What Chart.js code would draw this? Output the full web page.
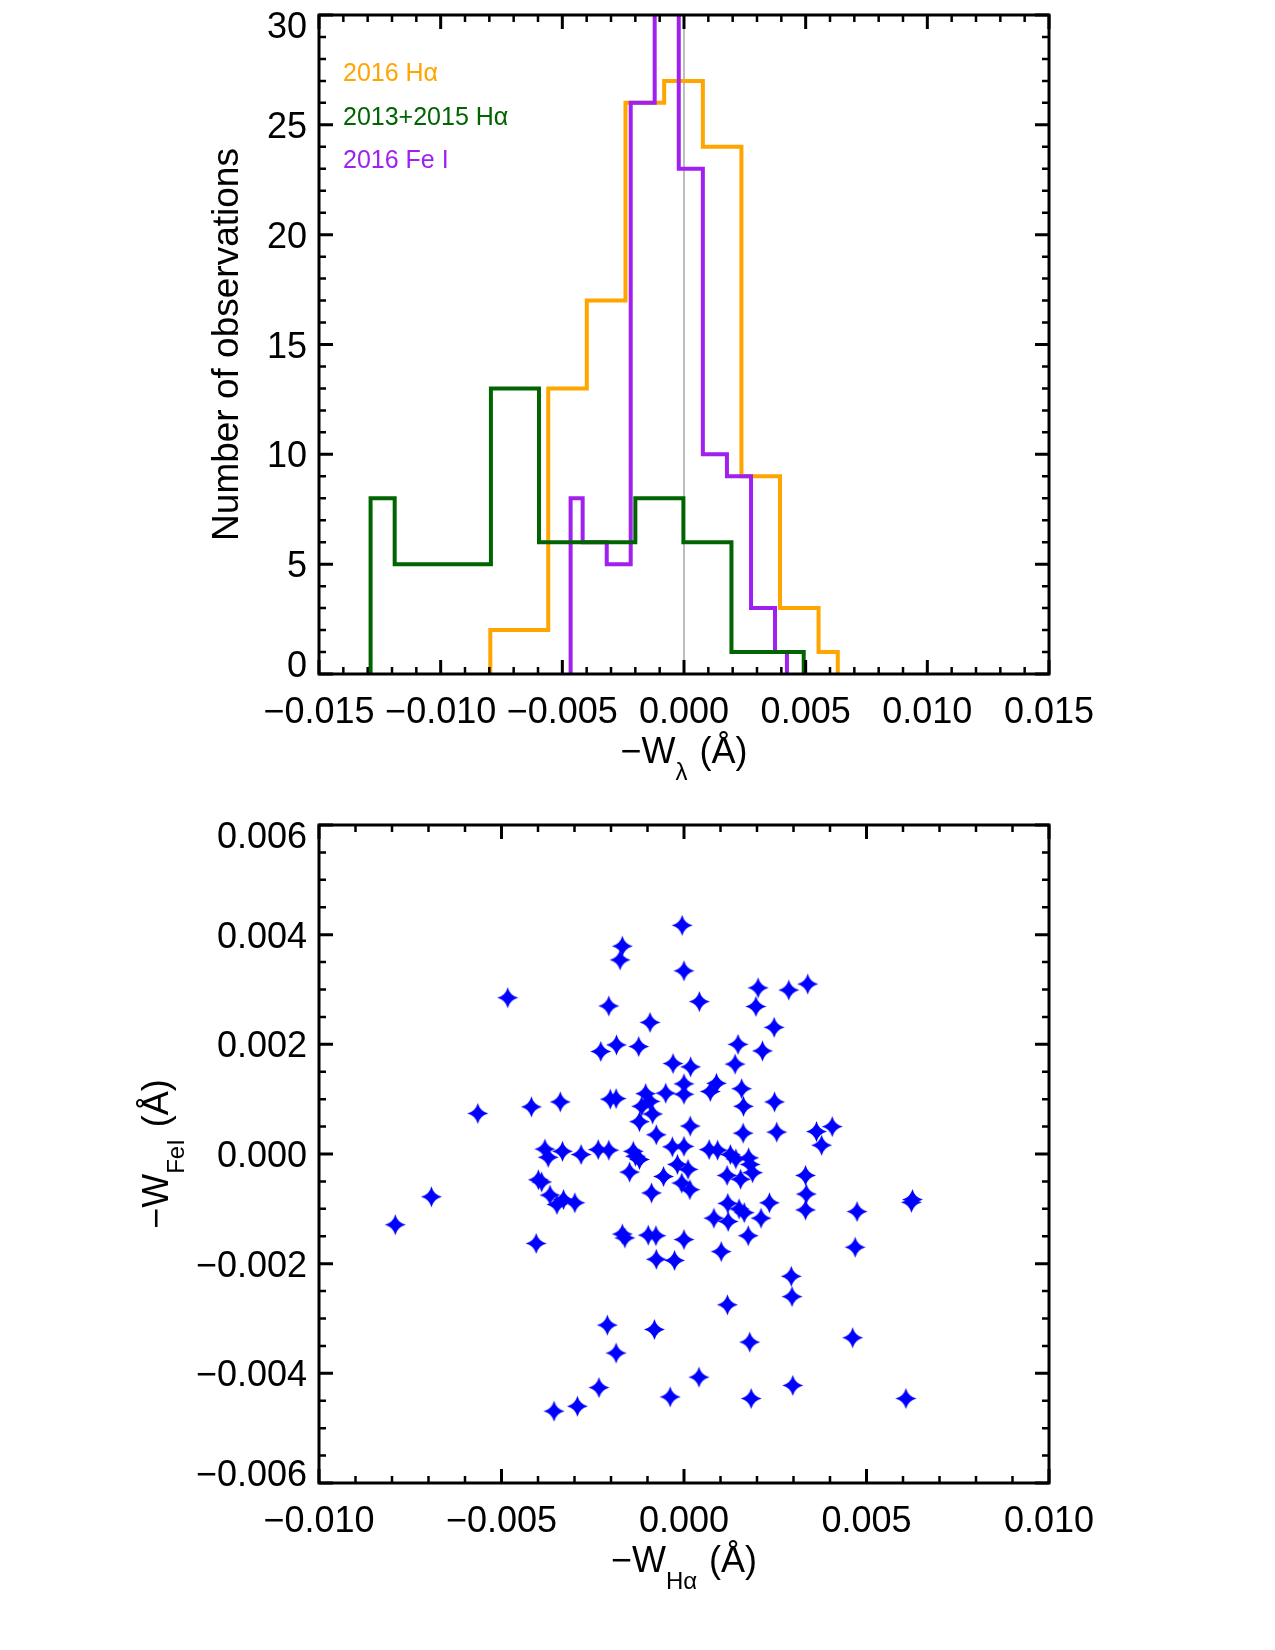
<!DOCTYPE html>
<html>
<head>
<meta charset="utf-8">
<title>Equivalent width distributions</title>
<script src="https://cdn.jsdelivr.net/npm/chart.js@4/dist/chart.umd.min.js"></script>
<style>
  body { margin: 0; background: #fff; }
  #page { position: relative; width: 1275px; height: 1650px; background: #fff; }
  canvas { position: absolute; left: 0; }
  #histCanvas { top: 0; }
  #scatterCanvas { top: 800px; }
</style>
</head>
<body>
<div id="page">
  <canvas id="histCanvas" width="1275" height="800"></canvas>
  <canvas id="scatterCanvas" width="1275" height="850"></canvas>
</div>
<script>
// histogram bin centres (Angstrom) and counts
const binsHa2016 = [-0.00796, -0.00637, -0.00479, -0.00320, -0.00161, -0.00002, 0.00157, 0.00315, 0.00474, 0.00632];
const countsHa2016 = [2, 2, 13, 17, 26, 27, 24, 9, 3, 1];

const binsHa1315 = [-0.01288, -0.01090, -0.00892, -0.00695, -0.00497, -0.00299, -0.00101, 0.00096, 0.00294, 0.00492];
const countsHa1315 = [8, 5, 5, 13, 6, 6, 8, 6, 1, 1];

const binsFe2016 = [-0.00466, -0.00367, -0.00268, -0.00170, -0.00071, 0.00028, 0.00127, 0.00226, 0.00325, 0.00423];
const countsFe2016 = [8, 6, 5, 26, 33, 23, 10, 9, 3, 1];

const zeroLineX = 0;

// scatter: -W(Halpha) against -W(FeI), 2016
const scatterHa = [
  -0.00005, -0.00169, -0.00175, 0.00000, -0.00483, 0.00339, 0.00203, 0.00287, 0.00042, -0.00206,
  0.00197, -0.00093, 0.00247, -0.00228, -0.00185, -0.00124, 0.00148, 0.00215, -0.00030, 0.00018,
  0.00140, 0.00000, 0.00089, 0.00072, 0.00000, -0.00050, 0.00158, -0.00202, -0.00186, -0.00105,
  -0.00116, -0.00093, 0.00163, 0.00248, -0.00565, -0.00418, -0.00339, -0.00086, -0.00122, 0.00017,
  -0.00076, 0.00162, 0.00254, 0.00363, 0.00406, 0.00377, -0.00381, -0.00372, -0.00333, -0.00282,
  -0.00235, -0.00206, -0.00139, -0.00133, -0.00122, -0.00032, 0.00000, 0.00069, 0.00092, 0.00127,
  0.00142, 0.00177, 0.00181, 0.00188, -0.00149, -0.00056, -0.00018, 0.00011, -0.00006, 0.00016,
  0.00118, 0.00155, 0.00333, -0.00399, -0.00390, -0.00089, 0.00335, -0.00367, -0.00330, -0.00348,
  -0.00299, 0.00120, 0.00151, 0.00165, 0.00234, 0.00333, 0.00474, 0.00626, 0.00623, -0.00791,
  -0.00692, 0.00082, 0.00121, 0.00211, -0.00169, -0.00162, -0.00098, -0.00077, 0.00000, 0.00176,
  -0.00405, 0.00102, 0.00469, -0.00076, -0.00026, 0.00294, 0.00296, 0.00119, -0.00210, -0.00081,
  0.00180, 0.00462, -0.00186, 0.00041, 0.00298, -0.00233, -0.00038, 0.00184, 0.00608, -0.00292,
  -0.00356
];
const scatterFe = [
  0.00417, 0.00379, 0.00354, 0.00334, 0.00285, 0.00310, 0.00303, 0.00299, 0.00278, 0.00270,
  0.00269, 0.00240, 0.00231, 0.00187, 0.00199, 0.00196, 0.00200, 0.00188, 0.00165, 0.00159,
  0.00164, 0.00128, 0.00129, 0.00114, 0.00109, 0.00111, 0.00119, 0.00100, 0.00101, 0.00110,
  0.00087, 0.00096, 0.00087, 0.00095, 0.00074, 0.00086, 0.00095, 0.00073, 0.00059, 0.00051,
  0.00035, 0.00038, 0.00040, 0.00041, 0.00050, 0.00016, 0.00009, -0.00006, 0.00005, -0.00001,
  0.00008, 0.00007, 0.00005, -0.00004, -0.00010, 0.00013, 0.00014, 0.00008, 0.00007, -0.00001,
  -0.00009, -0.00007, -0.00019, -0.00034, -0.00033, -0.00041, -0.00019, -0.00028, -0.00053, -0.00065,
  -0.00039, -0.00046, -0.00039, -0.00047, -0.00051, -0.00071, -0.00073, -0.00075, -0.00083, -0.00092,
  -0.00089, -0.00090, -0.00100, -0.00107, -0.00089, -0.00102, -0.00105, -0.00083, -0.00088, -0.00129,
  -0.00078, -0.00117, -0.00123, -0.00117, -0.00146, -0.00153, -0.00148, -0.00149, -0.00156, -0.00149,
  -0.00163, -0.00178, -0.00170, -0.00192, -0.00194, -0.00223, -0.00260, -0.00275, -0.00312, -0.00320,
  -0.00343, -0.00335, -0.00363, -0.00407, -0.00422, -0.00426, -0.00443, -0.00446, -0.00446, -0.00460,
  -0.00469
];

// axis ticks
const histXTicks = [-0.015, -0.010, -0.005, 0.000, 0.005, 0.010, 0.015];
const histYTicks = [0, 5, 10, 15, 20, 25, 30];
const scatXTicks = [-0.010, -0.005, 0.000, 0.005, 0.010];
const scatYTicks = [-0.006, -0.004, -0.002, 0.000, 0.002, 0.004, 0.006];

const legendLabels = ['2016 H\u03b1', '2013+2015 H\u03b1', '2016 Fe I'];

const ORANGE = '#FFA500';
const GREEN = '#006400';
const PURPLE = '#A020F0';
const FONT = '"Liberation Sans", Arial, Helvetica, sans-serif';

// IDL psym=10 style outline: half-width steps at both ends, dropped to zero
function stepPoints(centers, counts) {
  const last = centers.length - 1;
  const pts = [{x: centers[0], y: 0}];
  for (let i = 0; i <= last; i++) {
    const left = i === 0 ? centers[0] : (centers[i - 1] + centers[i]) / 2;
    const right = i === last ? centers[last] : (centers[i] + centers[i + 1]) / 2;
    pts.push({x: left, y: counts[i]}, {x: right, y: counts[i]});
  }
  pts.push({x: centers[last], y: 0});
  return pts;
}

function fixed3(v) {
  return (v < -1e-12 ? '\u2212' : '') + Math.abs(v).toFixed(3);
}

function drawRich(ctx, parts, cx, baseline) {
  let total = 0;
  parts.forEach((p) => {
    ctx.font = p.size + 'px ' + FONT;
    p.w = ctx.measureText(p.text).width;
    total += p.w + (p.gap || 0);
  });
  let x = cx - total / 2;
  ctx.textAlign = 'left';
  ctx.textBaseline = 'alphabetic';
  parts.forEach((p) => {
    x += p.gap || 0;
    ctx.font = p.size + 'px ' + FONT;
    ctx.fillText(p.text, x, baseline + (p.dy || 0));
    x += p.w;
  });
}

// box, inward ticks on all sides, labels and titles
function makeFrame(cfg) {
  return {
    id: 'idlFrame',
    afterDatasetsDraw(chart) {
      const ctx = chart.ctx;
      const a = chart.chartArea;
      const xs = chart.scales.x;
      const ys = chart.scales.y;
      ctx.save();
      ctx.strokeStyle = '#000';
      ctx.fillStyle = '#000';
      ctx.lineCap = 'butt';

      const mark = (scale, v, len, w) => {
        const p = scale.getPixelForValue(v);
        ctx.lineWidth = w;
        ctx.beginPath();
        if (scale.axis === 'x') {
          ctx.moveTo(p, a.bottom); ctx.lineTo(p, a.bottom - len);
          ctx.moveTo(p, a.top); ctx.lineTo(p, a.top + len);
        } else {
          ctx.moveTo(a.left, p); ctx.lineTo(a.left + len, p);
          ctx.moveTo(a.right, p); ctx.lineTo(a.right - len, p);
        }
        ctx.stroke();
      };
      [[xs, cfg.xTicks, cfg.xMinor], [ys, cfg.yTicks, cfg.yMinor]].forEach(([scale, ticks, minor]) => {
        ticks.forEach((v, i) => {
          mark(scale, v, 14, 3);
          if (i < ticks.length - 1) {
            const step = (ticks[i + 1] - v) / minor;
            for (let k = 1; k < minor; k++) mark(scale, v + k * step, 7, 2.5);
          }
        });
      });

      ctx.lineWidth = 3;
      ctx.lineJoin = 'miter';
      ctx.strokeRect(a.left, a.top, a.right - a.left, a.bottom - a.top);

      // tick labels
      ctx.font = '36px ' + FONT;
      ctx.textBaseline = 'alphabetic';
      ctx.textAlign = 'center';
      cfg.xTicks.forEach((v) => {
        ctx.fillText(cfg.xFormat(v), xs.getPixelForValue(v), a.bottom + 49);
      });
      ctx.textAlign = 'right';
      const lastY = cfg.yTicks.length - 1;
      cfg.yTicks.forEach((v, i) => {
        let py = ys.getPixelForValue(v) + 13;
        if (i === 0) py -= 10;
        if (i === lastY) py += 10;
        ctx.fillText(cfg.yFormat(v), a.left - 12, py);
      });

      // axis titles
      drawRich(ctx, cfg.xTitle, (a.left + a.right) / 2, a.bottom + 89);
      ctx.save();
      ctx.translate(cfg.yTitleX, (a.top + a.bottom) / 2);
      ctx.rotate(-Math.PI / 2);
      drawRich(ctx, cfg.yTitle, 0, 0);
      ctx.restore();

      // in-plot legend text
      if (cfg.legend) {
        ctx.font = '25px ' + FONT;
        ctx.textAlign = 'left';
        cfg.legend.forEach((item, i) => {
          ctx.fillStyle = item.color;
          ctx.fillText(item.text, a.left + 24, a.top + 66 + i * 43.5);
        });
      }
      ctx.restore();
    }
  };
}

function makeStar(r, color) {
  const c = document.createElement('canvas');
  const s = Math.ceil(r * 2 + 2);
  c.width = s;
  c.height = s;
  const g = c.getContext('2d');
  const k = r * 0.2;
  g.translate(s / 2, s / 2);
  g.beginPath();
  g.moveTo(0, -r);
  g.quadraticCurveTo(k, -k, r, 0);
  g.quadraticCurveTo(k, k, 0, r);
  g.quadraticCurveTo(-k, k, -r, 0);
  g.quadraticCurveTo(-k, -k, 0, -r);
  g.closePath();
  g.fillStyle = color;
  g.fill();
  return c;
}

const hiddenAxis = (min, max) => ({
  type: 'linear', min: min, max: max, display: false
});

const baseOptions = {
  responsive: false,
  animation: false,
  devicePixelRatio: 1,
  events: [],
  plugins: { legend: { display: false }, tooltip: { enabled: false } }
};

const stepLine = (data, color) => ({
  data: data,
  borderColor: color,
  borderWidth: 4,
  pointRadius: 0,
  fill: false,
  tension: 0,
  borderJoinStyle: 'miter',
  borderCapStyle: 'butt'
});

// top panel: histograms
new Chart(document.getElementById('histCanvas'), {
  type: 'line',
  data: {
    datasets: [
      stepLine(stepPoints(binsHa1315, countsHa1315), GREEN),
      stepLine(stepPoints(binsFe2016, countsFe2016), PURPLE),
      stepLine(stepPoints(binsHa2016, countsHa2016), ORANGE),
      Object.assign(stepLine([
        {x: zeroLineX, y: histYTicks[0]},
        {x: zeroLineX, y: histYTicks[histYTicks.length - 1]}
      ], '#BEBEBE'), {borderWidth: 2})
    ]
  },
  options: Object.assign({}, baseOptions, {
    layout: { padding: { left: 319, right: 226, top: 15, bottom: 126 } },
    scales: {
      x: hiddenAxis(histXTicks[0], histXTicks[histXTicks.length - 1]),
      y: hiddenAxis(histYTicks[0], histYTicks[histYTicks.length - 1])
    }
  }),
  plugins: [makeFrame({
    xTicks: histXTicks, xMinor: 5,
    yTicks: histYTicks, yMinor: 5,
    xFormat: fixed3,
    yFormat: (v) => String(v),
    xTitle: [
      {text: '\u2212W', size: 36},
      {text: '\u03bb', size: 24, dy: 17},
      {text: '(\u00c5)', size: 36, gap: 12}
    ],
    yTitle: [{text: 'Number of observations', size: 37}],
    yTitleX: 238,
    legend: [
      {text: legendLabels[0], color: ORANGE},
      {text: legendLabels[1], color: GREEN},
      {text: legendLabels[2], color: PURPLE}
    ]
  })]
});

// bottom panel: Halpha vs FeI scatter
new Chart(document.getElementById('scatterCanvas'), {
  type: 'scatter',
  data: {
    datasets: [{
      data: scatterHa.map((v, i) => ({x: v, y: scatterFe[i]})),
      pointStyle: makeStar(10.5, '#0000FF'),
      pointRadius: 10,
      pointHoverRadius: 10
    }]
  },
  options: Object.assign({}, baseOptions, {
    layout: { padding: { left: 319, right: 226, top: 25, bottom: 167 } },
    scales: {
      x: hiddenAxis(scatXTicks[0], scatXTicks[scatXTicks.length - 1]),
      y: hiddenAxis(scatYTicks[0], scatYTicks[scatYTicks.length - 1])
    }
  }),
  plugins: [makeFrame({
    xTicks: scatXTicks, xMinor: 5,
    yTicks: scatYTicks, yMinor: 4,
    xFormat: fixed3,
    yFormat: fixed3,
    xTitle: [
      {text: '\u2212W', size: 36},
      {text: 'H\u03b1', size: 24, dy: 17},
      {text: '(\u00c5)', size: 36, gap: 12}
    ],
    yTitle: [
      {text: '\u2212W', size: 36},
      {text: 'FeI', size: 24, dy: 16},
      {text: '(\u00c5)', size: 36, gap: 12}
    ],
    yTitleX: 168
  })]
});
</script>
</body>
</html>
